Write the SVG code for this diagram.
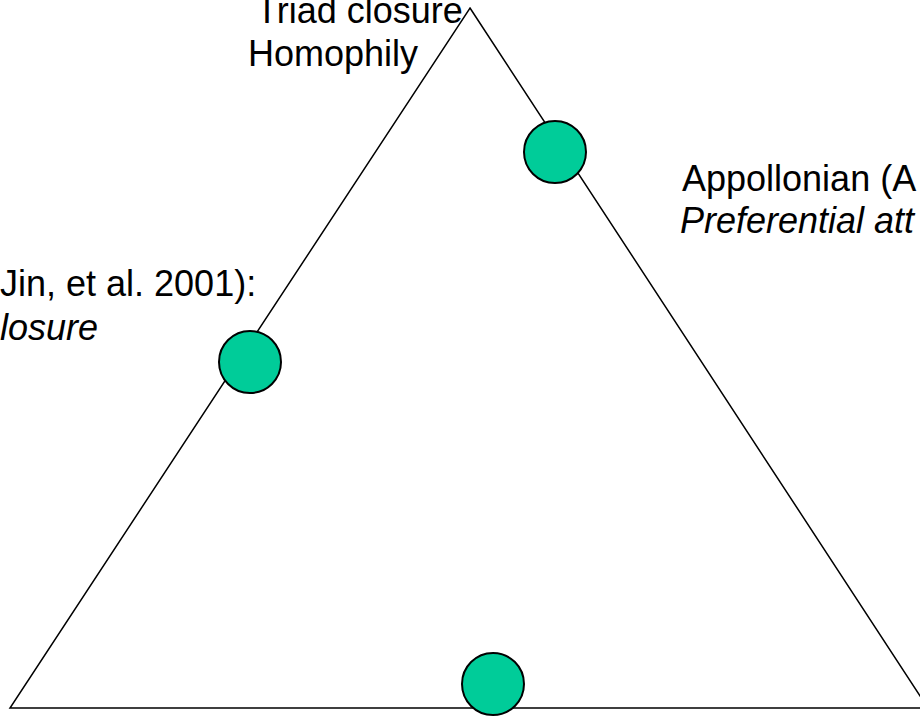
<svg xmlns="http://www.w3.org/2000/svg" width="920" height="716" viewBox="0 0 920 716">
<style>
.lbl{font-family:"Liberation Sans",Arial,sans-serif;font-size:36px;fill:#000}
.it{font-style:italic}
.node{fill:#00CC99;stroke:#000;stroke-width:2}
.edge{fill:none;stroke:#000;stroke-width:1.5}
</style>
<rect width="920" height="716" fill="#fff"/>
<g id="connectors">
<polygon class="edge" points="470,8 928,708 10,708"/>
</g>
<g id="label-top">
<text class="lbl" x="256" y="23">Triad closure</text>
<text class="lbl" x="248" y="66">Homophily</text>
</g>
<g id="label-right">
<text class="lbl" x="682" y="191">Appollonian (A</text>
<text class="lbl it" x="680" y="233">Preferential att</text>
</g>
<g id="label-left">
<text class="lbl" x="0" y="296">Jin, et al. 2001):</text>
<text class="lbl it" x="0" y="340">losure</text>
</g>
<g id="node-right"><circle class="node" cx="555" cy="152" r="31"/></g>
<g id="node-left"><circle class="node" cx="250" cy="362" r="31"/></g>
<g id="node-bottom"><circle class="node" cx="493" cy="684" r="31"/></g>
</svg>
